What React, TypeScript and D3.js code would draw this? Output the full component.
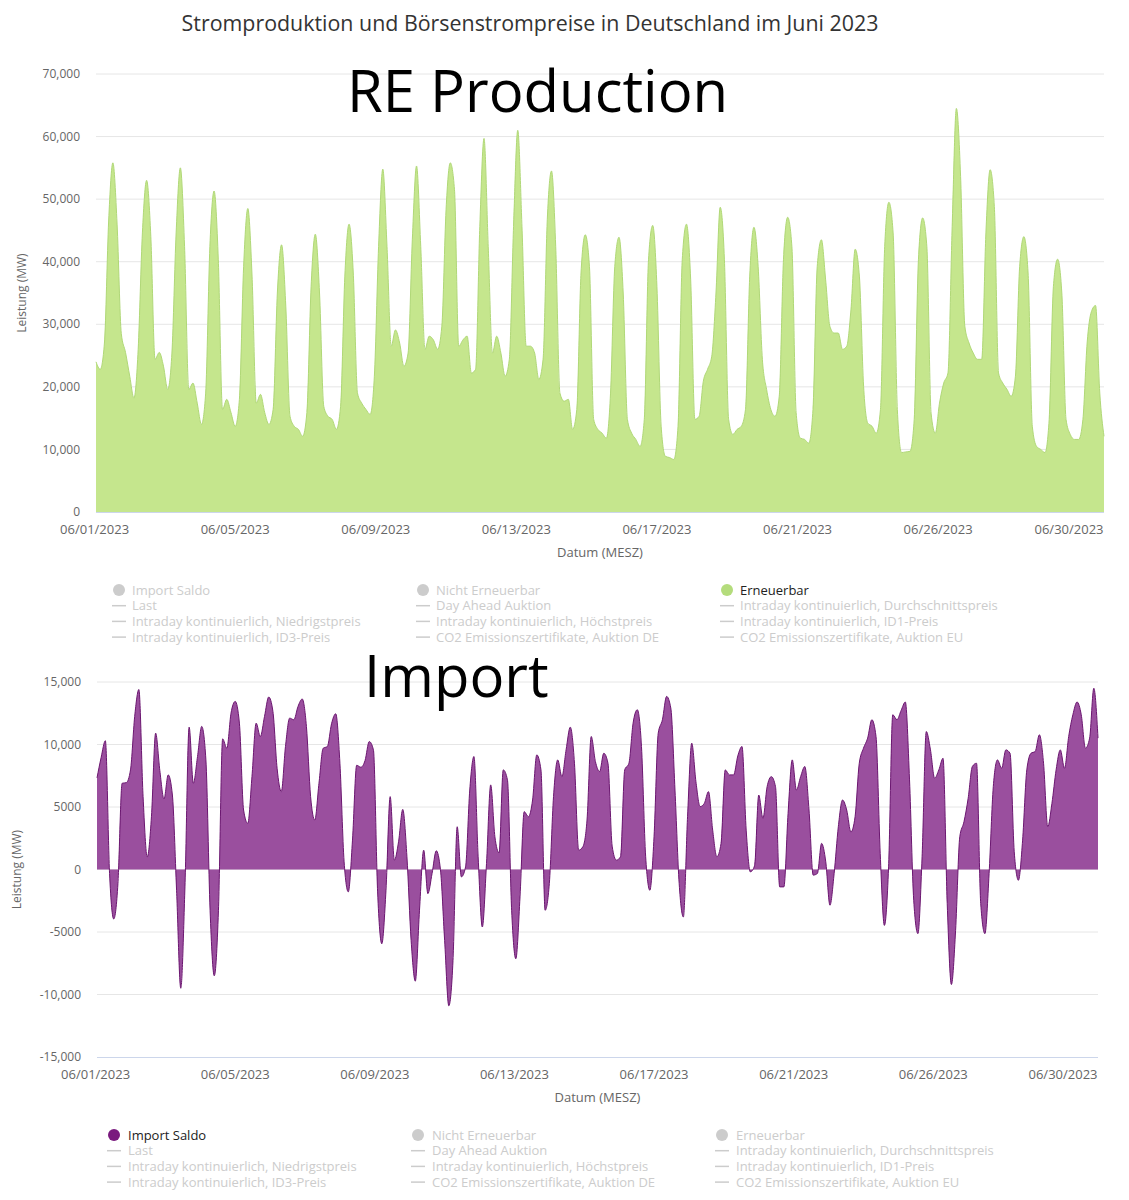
import React from 'react'
import * as d3 from 'd3'

// samples every 3 hours, first one at 01:00 on 06/01/2023
const START = new Date(2023, 5, 1, 0, 0).getTime()
const HOUR = 3600 * 1000
const FIRST_HOUR = 1
const STEP_HOURS = 3

// Erneuerbar (MW), 8 values per day: 01, 04, 07, 10, 13, 16, 19, 22 h
const renewableMW = [
  24000, 22800, 27000, 46500, 55800, 46000, 28500, 25500,
  21700, 18200, 26000, 44600, 53000, 44000, 24400, 25500,
  23300, 19600, 25400, 44600, 55000, 42400, 19600, 20600,
  17400, 14000, 19000, 42400, 51300, 40300, 16400, 18000,
  15900, 13700, 18000, 39200, 48500, 37700, 17400, 18800,
  15900, 14000, 16400, 35000, 42700, 32900, 15300, 13700,
  13200, 12100, 15900, 36000, 44400, 35000, 16900, 15300,
  14800, 13200, 16900, 37700, 46000, 38200, 19000, 17400,
  16400, 15600, 21700, 42400, 54800, 42400, 26500, 29100,
  27000, 23300, 25400, 43500, 55300, 42400, 26000, 28100,
  27500, 26000, 29700, 48300, 55800, 51500, 26500, 27500,
  28100, 22200, 22800, 45600, 59700, 42400, 25400, 28100,
  25400, 21700, 24400, 45600, 61000, 45600, 26500, 26500,
  25400, 21200, 24400, 46700, 54500, 42400, 19000, 17700,
  18000, 13200, 16400, 38200, 44300, 39200, 14800, 13200,
  12600, 11800, 19000, 39200, 43900, 35000, 14800, 12600,
  11600, 10500, 14800, 40300, 45800, 36000, 13700, 8900,
  8700, 8400, 13700, 40300, 46000, 37100, 14800, 15300,
  20900, 22800, 24900, 35000, 48700, 40300, 14800, 12400,
  13200, 13700, 16400, 37700, 45500, 39200, 24400, 19600,
  16400, 15300, 18500, 40300, 47100, 42400, 15900, 11800,
  11600, 11000, 16400, 39200, 43500, 37100, 29700, 28600,
  28600, 26000, 26500, 32300, 42000, 37700, 20100, 14200,
  13700, 12600, 16400, 42400, 49500, 44600, 16400, 9500,
  9600, 9700, 14800, 40300, 47000, 42400, 15800, 12600,
  17400, 20600, 22200, 45600, 64500, 53600, 29700, 27000,
  25400, 24400, 24400, 44600, 54700, 48800, 22200, 20600,
  19600, 18500, 21700, 39200, 44000, 38200, 13700, 10500,
  10000, 9500, 14800, 36000, 40400, 35000, 14800, 12400,
  11600, 11600, 14800, 27000, 32000, 33000, 19000, 12100,
]

// Import Saldo (MW), same sample grid
const importMW = [
  7330, 8980, 10300, -320, -3960, -1120, 6900, 6950, 7970, 12250,
  14400, 5830, 1000, 4220, 10910, 7920, 5640, 7570, 5960, -1660,
  -9500, -1390, 11390, 6900, 9040, 11450, 8770, -3260, -8500, -3260,
  10450, 9700, 12510, 13450, 11710, 4760, 3690, 7430, 11710, 10640,
  12250, 13800, 12650, 8100, 6230, 9840, 12110, 11980, 13050, 13640,
  11450, 5830, 3960, 6900, 9700, 9840, 11660, 12460, 8500, 615,
  -1790, 2350, 8340, 8180, 8720, 10240, 9570, -1790, -5940, -1660,
  5830, 750, 2220, 4810, 1020, -5670, -8930, -3260, 1550, -1930,
  -320, 1500, 0, -5670, -10900, -7270, 3420, -590, 210, 6360,
  9040, 1020, -4600, 480, 6770, 2620, 1340, 7970, 7170, -3260,
  -7140, -2190, 4630, 4220, 5560, 9170, 7970, -3260, -1120, 5830,
  8770, 7430, 9570, 11390, 8500, 1550, 1820, 3960, 10640, 8640,
  7830, 9300, 8500, 1870, 750, 1020, 7970, 8500, 11710, 12780,
  9840, 1020, -1660, 2620, 10910, 11980, 13850, 12920, 6360, -1120,
  -3800, 4220, 10110, 7030, 5030, 5290, 6230, 3150, 1020, 2090,
  7970, 7570, 7570, 9090, 9840, 3150, -190, 300, 5960, 4090,
  6630, 7430, 6630, -1390, -1390, 4490, 8770, 6360, 7430, 8240,
  4760, -450, -320, 2090, 615, -2860, -320, 3420, 5560, 4760,
  3000, 4220, 8500, 9700, 10510, 11980, 10640, 1280, -4470, 210,
  12380, 11980, 12730, 13400, 7170, -2460, -5130, 1020, 11040, 9570,
  7300, 7970, 8900, -2730, -9200, -4870, 2620, 3820, 5700, 8240,
  8500, -2730, -5130, -320, 6630, 8770, 8100, 9570, 9300, 1420,
  -860, 2350, 7970, 9300, 9440, 10780, 8500, 3420, 5290, 7970,
  9570, 8100, 10640, 12380, 13400, 12380, 9700, 10510, 14500, 10510,
]

const xTickHours = [0, 100, 200, 300, 400, 500, 600, 700]
const renewableTicks = [0, 10000, 20000, 30000, 40000, 50000, 60000, 70000]
const importTicks = [-15000, -10000, -5000, 0, 5000, 10000, 15000]

const legendNames = [
  'Import Saldo', 'Nicht Erneuerbar', 'Erneuerbar',
  'Last', 'Day Ahead Auktion', 'Intraday kontinuierlich, Durchschnittspreis',
  'Intraday kontinuierlich, Niedrigstpreis', 'Intraday kontinuierlich, Höchstpreis', 'Intraday kontinuierlich, ID1-Preis',
  'Intraday kontinuierlich, ID3-Preis', 'CO2 Emissionszertifikate, Auktion DE', 'CO2 Emissionszertifikate, Auktion EU',
]
const areaSeries = ['Import Saldo', 'Nicht Erneuerbar', 'Erneuerbar']

const FONT = '"Open Sans", "Noto Sans", sans-serif'
const fmtDate = d3.timeFormat('%m/%d/%Y')

type Pt = { time: Date; v: number }

const toPoints = (vals: number[]): Pt[] =>
  vals.map((v, i) => ({ time: new Date(START + (FIRST_HOUR + STEP_HOURS * i) * HOUR), v }))

type PanelProps = {
  values: number[]
  yTicks: number[]
  left: number
  right: number
  top: number
  bottom: number
  fill: string
  stroke: string
  fmt: (v: number) => string
  labelRight: number
  yTitleX: number
  overlay: string
  overlayX: number
  overlayY: number
  legendTop: number
  legendX: number
  legendDx: number
  active: string
  activeColor: string
}

const Panel = (p: PanelProps) => {
  const pts = toPoints(p.values)
  const x = d3.scaleTime()
    .domain(d3.extent(pts, d => d.time) as [Date, Date])
    .range([p.left, p.right])
  const y = d3.scaleLinear()
    .domain([p.yTicks[0], p.yTicks[p.yTicks.length - 1]])
    .range([p.bottom, p.top])

  const area = d3.area<Pt>()
    .x(d => x(d.time))
    .y0(y(0))
    .y1(d => y(d.v))
    .curve(d3.curveMonotoneX)
  const line = d3.line<Pt>()
    .x(d => x(d.time))
    .y(d => y(d.v))
    .curve(d3.curveMonotoneX)

  const midX = (p.left + p.right) / 2
  const midY = (p.top + p.bottom) / 2

  return (
    <g fontFamily={FONT}>
      {p.yTicks.slice(1).map(t => (
        <line key={t} x1={p.left} x2={p.right} y1={y(t)} y2={y(t)} stroke="#e6e6e6" />
      ))}
      <path d={area(pts) || ''} fill={p.fill} />
      <path d={line(pts) || ''} fill="none" stroke={p.stroke} strokeWidth={1} />
      <line x1={p.left} x2={p.right} y1={p.bottom + 0.5} y2={p.bottom + 0.5} stroke="#ccd6eb" />

      {p.yTicks.map(t => (
        <text key={t} x={p.labelRight} y={y(t)} dy="0.35em" textAnchor="end" fontSize={12} fill="#666">
          {p.fmt(t)}
        </text>
      ))}
      <text
        transform={`translate(${p.yTitleX},${midY}) rotate(-90)`}
        textAnchor="middle" dy="0.35em" fontSize={12} fill="#666"
      >
        Leistung (MW)
      </text>

      {xTickHours.map(h => {
        const d = new Date(START + h * HOUR)
        const tx = Math.min(x(d), p.right - 35)
        return (
          <text key={h} x={tx} y={p.bottom + 22} textAnchor="middle" fontSize={13} fill="#666">
            {fmtDate(d)}
          </text>
        )
      })}
      <text x={midX} y={p.bottom + 45} textAnchor="middle" fontSize={13} fill="#666">
        Datum (MESZ)
      </text>

      {legendNames.map((name, i) => {
        const col = i % 3
        const row = Math.floor(i / 3)
        const cx = p.legendX + col * 304
        const cy = p.legendTop + row * 15.7
        const on = name === p.active
        const isArea = areaSeries.includes(name)
        return (
          <g key={name}>
            {isArea
              ? <circle cx={cx} cy={cy} r={6} fill={on ? p.activeColor : '#cccccc'} />
              : <line x1={cx - 7} x2={cx + 7} y1={cy} y2={cy} stroke="#cccccc" strokeWidth={1.5} />}
            <text x={cx + p.legendDx} y={cy} dy="0.35em" fontSize={13} fill={on ? '#222' : '#cccccc'}>
              {name}
            </text>
          </g>
        )
      })}

      <text x={p.overlayX} y={p.overlayY} fontSize={58} fill="#000">
        {p.overlay}
      </text>
    </g>
  )
}

const fmtImport = (v: number) => (Math.abs(v) >= 10000 ? v.toLocaleString('en-US') : String(v))

export default function App() {
  return (
    <div style={{ position: 'absolute', left: 0, top: 0 }}>
      <svg width={1129} height={1200} style={{ display: 'block', background: '#fff' }}>
        <text x={530} y={31} textAnchor="middle" fontFamily={FONT} fontSize={21.4} fill="#333">
          Stromproduktion und Börsenstrompreise in Deutschland im Juni 2023
        </text>
        <Panel
          values={renewableMW}
          yTicks={renewableTicks}
          left={96} right={1104} top={74} bottom={512}
          fill="#c5e68d" stroke="#b0d877"
          fmt={d3.format(',')}
          labelRight={80} yTitleX={22}
          overlay="RE Production" overlayX={347} overlayY={112}
          legendTop={590} legendX={119} legendDx={13}
          active="Erneuerbar" activeColor="#b4dc7c"
        />
        <Panel
          values={importMW}
          yTicks={importTicks}
          left={97} right={1098} top={682} bottom={1057}
          fill="#9a4f9e" stroke="#6b1670"
          fmt={fmtImport}
          labelRight={81} yTitleX={17}
          overlay="Import" overlayX={364} overlayY={697}
          legendTop={1135} legendX={114} legendDx={14}
          active="Import Saldo" activeColor="#7a1a7e"
        />
      </svg>
    </div>
  )
}
